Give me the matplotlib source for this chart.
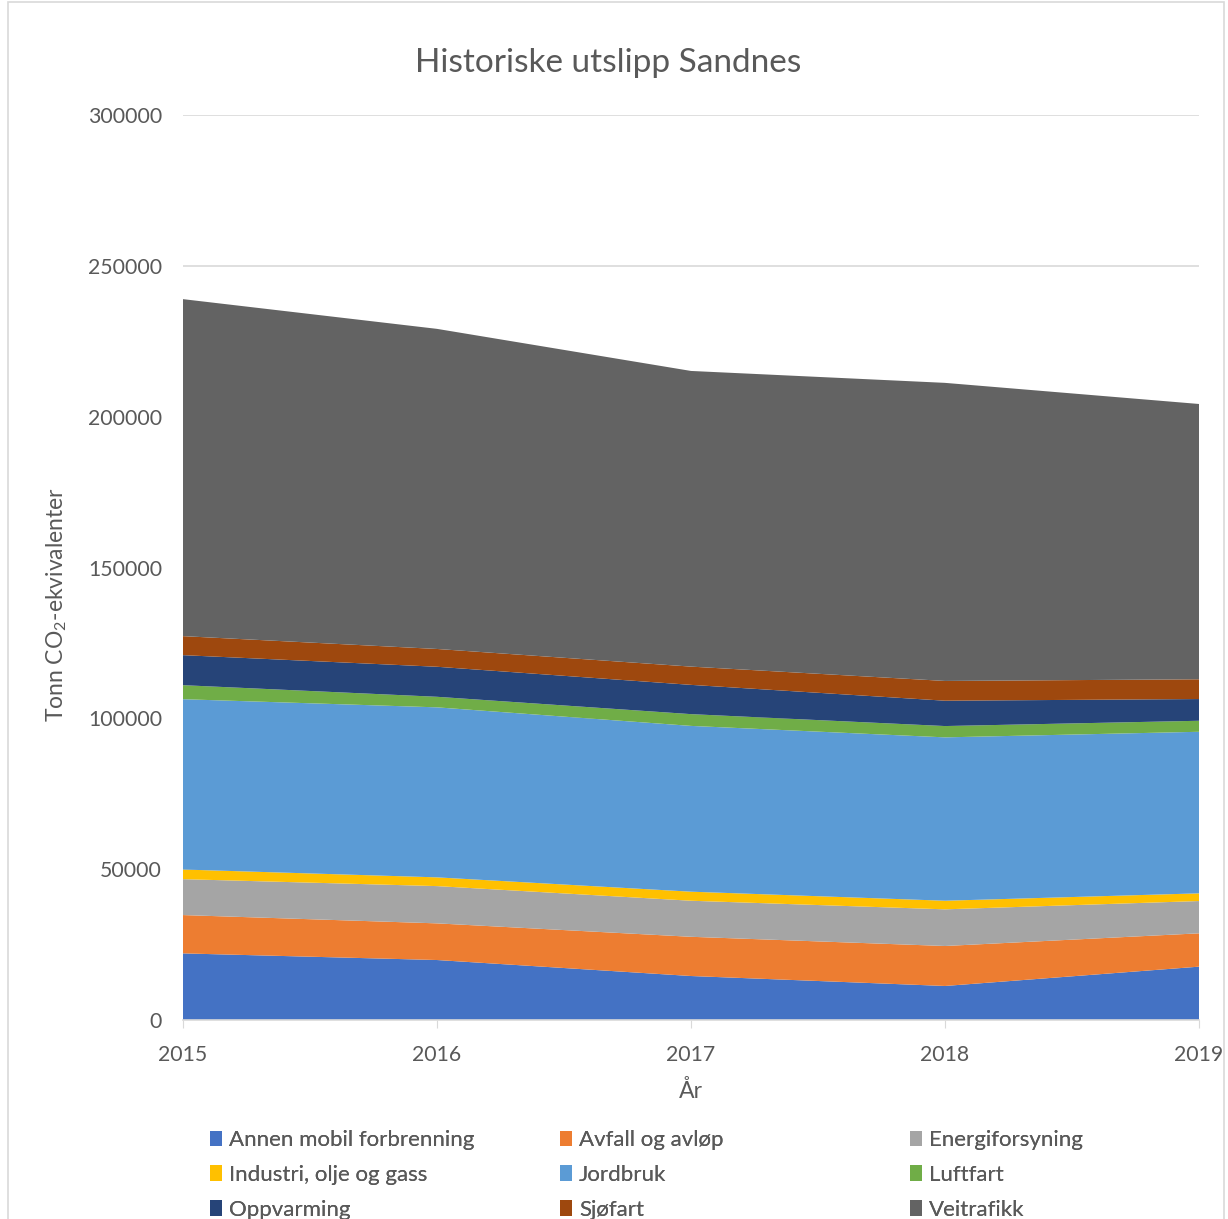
import matplotlib.pyplot as plt
from matplotlib.patches import Patch, Rectangle
import numpy as np

plt.rcParams['font.family'] = ['Lato', 'DejaVu Sans']
plt.rcParams['mathtext.fontset'] = 'custom'
plt.rcParams['mathtext.rm'] = 'Lato'
plt.rcParams['mathtext.it'] = 'Lato'

years = [2015, 2016, 2017, 2018, 2019]
sectors = ["Annen mobil forbrenning", "Avfall og avløp", "Energiforsyning",
           "Industri, olje og gass", "Jordbruk", "Luftfart",
           "Oppvarming", "Sjøfart", "Veitrafikk"]
annen = [22100, 19900, 14600, 11300, 17700]
avfall = [12700, 12150, 13000, 13250, 11050]
energi = [11900, 12350, 11950, 12150, 10700]
industri = [3200, 2900, 3000, 2850, 2550]
jordbruk = [56450, 56350, 54950, 54150, 53550]
luftfart = [4650, 3500, 3900, 3750, 3650]
oppvarming = [9950, 9950, 9700, 8400, 7200]
sjofart = [6300, 5900, 6050, 6550, 6550]
veitrafikk = [111700, 106100, 98000, 98800, 91250]
colors = ["#4472C4", "#ED7D31", "#A5A5A5", "#FFC000", "#5B9BD5",
          "#70AD47", "#264478", "#9E480E", "#636363"]

series = [annen, avfall, energi, industri, jordbruk, luftfart,
          oppvarming, sjofart, veitrafikk]
txt = "#595959"

fig = plt.figure(figsize=(12.28, 12.19), dpi=100)
fig.patches.append(Rectangle((0.0065, -0.01), 0.99, 1.008, transform=fig.transFigure,
                             fill=False, edgecolor="#d9d9d9", linewidth=1.2))
ax = fig.add_axes([0.149, 0.1632, 0.8274, 0.7425])

ax.stackplot(years, *series, colors=colors, labels=sectors, linewidth=0)

ax.set_xlim(2015, 2019)
ax.set_ylim(0, 300000)
ax.set_yticks(np.arange(0, 300001, 50000))
ax.set_xticks(years)
ax.grid(axis='y', color="#d9d9d9", linewidth=1.2)
ax.set_axisbelow(True)
for s in ['top', 'right', 'left']:
    ax.spines[s].set_visible(False)
ax.spines['bottom'].set_color("#d9d9d9")
ax.spines['bottom'].set_linewidth(1.2)
ax.tick_params(axis='y', length=0, pad=15, labelsize=15.3, labelcolor=txt)
ax.tick_params(axis='x', length=6, color="#d9d9d9", pad=12, labelsize=15.3, labelcolor=txt)

fig.suptitle("Historiske utslipp Sandnes", x=0.495, y=0.961, fontsize=24, color=txt)
ax.set_xlabel("År", fontsize=16.5, color=txt, labelpad=11)
ax.set_ylabel("Tonn CO$_2$-ekvivalenter", fontsize=16.5, color=txt)
ax.yaxis.set_label_coords(-0.112, 0.4586)

handles = [Patch(facecolor=c, edgecolor='none') for c in colors]
col_x = [0.171, 0.456, 0.741]
for i in range(3):
    idx = [i, i + 3, i + 6]
    leg = fig.legend([handles[k] for k in idx], [sectors[k] for k in idx],
                     loc='upper left', bbox_to_anchor=(col_x[i], 0.0728),
                     frameon=False, fontsize=16, labelcolor=txt,
                     handlelength=0.55, handleheight=0.7, handletextpad=0.3,
                     labelspacing=0.66, borderpad=0, borderaxespad=0)
    fig.add_artist(leg)

fig.savefig("out.png", dpi=100)
